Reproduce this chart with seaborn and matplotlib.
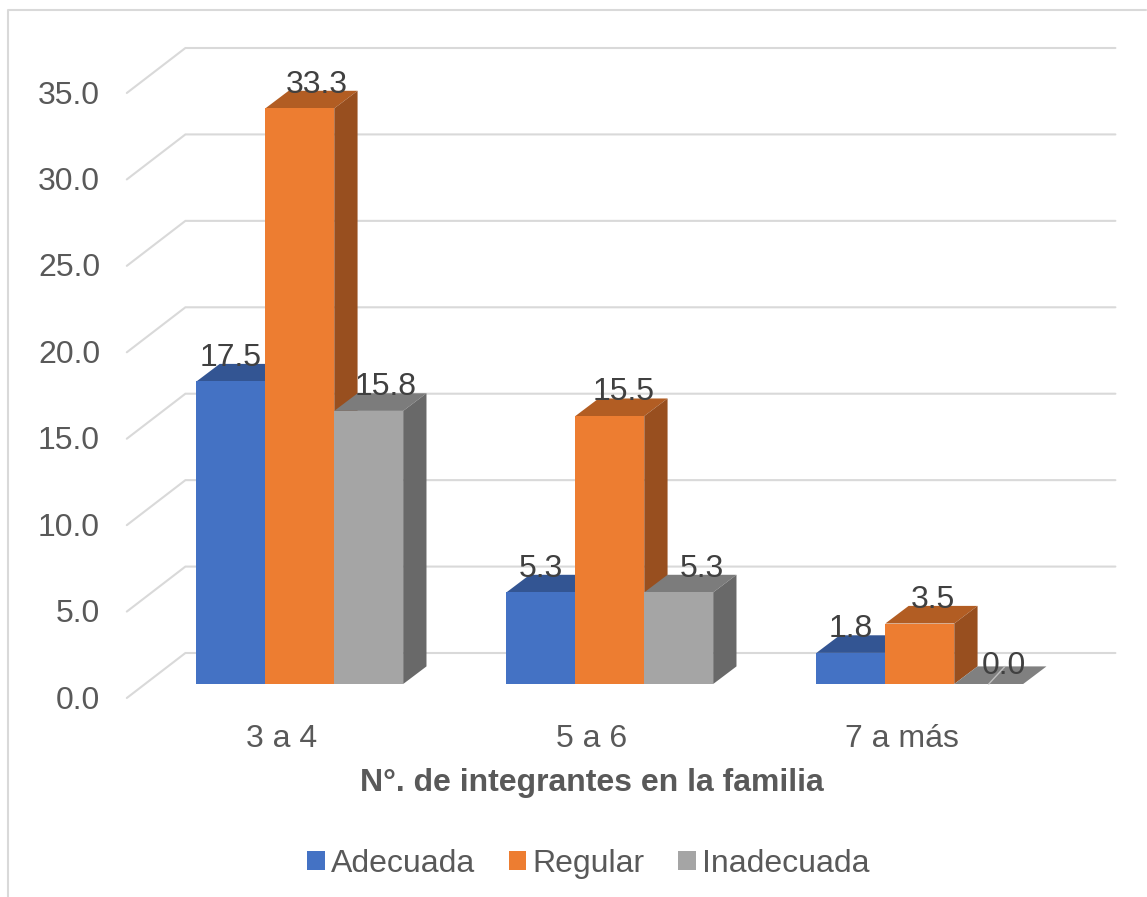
import matplotlib
matplotlib.use("Agg")
import matplotlib.pyplot as plt
from matplotlib.patches import Polygon
from matplotlib.lines import Line2D
from matplotlib.transforms import Affine2D
import pandas as pd
import seaborn as sns

categories = ["3 a 4", "5 a 6", "7 a más"]
adecuada = [17.5, 5.3, 1.8]
regular = [33.3, 15.5, 3.5]
inadecuada = [15.8, 5.3, 0.0]
series_names = ["Adecuada", "Regular", "Inadecuada"]
y_ticks = [0, 5, 10, 15, 20, 25, 30, 35]
x_title = "N°. de integrantes en la familia"

W, H = 1147, 897
FRONT = ["#4472C4", "#ED7D31", "#A5A5A5"]
TOP = ["#335593", "#B25D23", "#7C7C7C"]
SIDE = ["#2B4A80", "#984F1F", "#696969"]
TEXT = "#595959"
LABEL = "#404040"
GRID = "#D9D9D9"
FS = 23

sns.set_theme(style="white")
plt.rcParams["font.family"] = ["Liberation Sans", "DejaVu Sans"]

df = pd.DataFrame({
    "cat": categories * 3,
    "serie": [s for s in series_names for _ in categories],
    "val": adecuada + regular + inadecuada,
})

fig = plt.figure(figsize=(W / 100, H / 100), dpi=100)
ax_left, ax_right, ax_bottom, ax_top = 144.8, 1074.8, 684.0, 79.0
ax = fig.add_axes([ax_left / W, 1 - ax_bottom / H, (ax_right - ax_left) / W, (ax_bottom - ax_top) / H])

sns.barplot(data=df, x="cat", y="val", hue="serie", order=categories, hue_order=series_names,
            palette=FRONT, width=0.667, gap=0, saturation=1, dodge=True, legend=False,
            linewidth=0, ax=ax)
ax.set_xlim(-0.5, 2.5)
ax.set_ylim(0, 35)
sns.despine(ax=ax, left=True, bottom=True)

px_x = 3 / (ax_right - ax_left)
px_y = 35 / (ax_bottom - ax_top)
bar_dx, bar_dy = 23.3 * px_x, 17.6 * px_y
back_dx, back_dy = 40.6 * px_x, 31.0 * px_y
fore_dx, fore_dy = 18.0 * px_x, 14.0 * px_y

# Walls: gridlines with their slanted return on the left
for v in y_ticks:
    ax.plot([-0.5 - fore_dx, -0.5 + back_dx, 2.5 + back_dx],
            [v - fore_dy, v + back_dy, v + back_dy],
            color=GRID, lw=1.5, zorder=0.5, clip_on=False, solid_joinstyle="miter")

# Extruded bars
nudges = {(0, 0): 0, (0, 1): 0, (0, 2): 0,
          (1, 0): 17, (1, 1): 14, (1, 2): 13,
          (2, 0): 17, (2, 1): 23, (2, 2): 15}
for i, cont in enumerate(ax.containers):
    for j, rect in enumerate(cont.patches):
        x0, w, h = rect.get_x(), rect.get_width(), rect.get_height()
        x1 = x0 + w
        z = 3 + i
        rect.set_zorder(z + 0.5)
        rect.set_clip_on(False)
        top_col = "#808080" if h == 0 else TOP[i]
        ax.add_patch(Polygon([(x0, h), (x1, h), (x1 + bar_dx, h + bar_dy), (x0 + bar_dx, h + bar_dy)],
                             closed=True, fc=top_col, ec="none", zorder=z, clip_on=False))
        ax.add_patch(Polygon([(x1, 0), (x1 + bar_dx, bar_dy), (x1 + bar_dx, h + bar_dy), (x1, h)],
                             closed=True, fc=SIDE[i], ec="none", zorder=z, clip_on=False))
        if h == 0:
            xm = x0 + w / 2
            ax.plot([xm, xm + bar_dx * 0.7], [0, bar_dy], color="#BFBFBF", lw=1, zorder=z + 0.6, clip_on=False)
        base = h + bar_dy + (8 if h == 0 else 2) * (-px_y)
        label_tf = ax.transData + Affine2D().translate(nudges[(i, j)], 0)
        ax.text(x0 + w / 2, base, f"{h:.1f}", ha="center", va="baseline", fontsize=FS,
                color=LABEL, transform=label_tf, zorder=20, clip_on=False)

# Axis tick labels, moved onto the front edge of the floor
ax.set_yticks(y_ticks)
ax.set_yticklabels([f"{v:.1f}" for v in y_ticks])
ax.tick_params(axis="y", length=0, pad=(ax_left - 100) * 0.72, labelsize=FS, labelcolor=TEXT)
ax.tick_params(axis="x", length=0, pad=(725 - 684 - 1) * 0.72, labelsize=FS, labelcolor=TEXT)
for lab in ax.get_yticklabels():
    lab.set_transform(lab.get_transform() + Affine2D().translate(0, -13))
for lab in ax.get_xticklabels():
    lab.set_transform(lab.get_transform() + Affine2D().translate(-18, 0))
ax.set_xlabel("")
ax.set_ylabel("")
fig.text(592 / W, 1 - 783 / H, x_title, ha="center", va="center", fontsize=23,
         fontweight="bold", color=TEXT)

handles = [plt.Rectangle((0, 0), 1, 1, fc=c, ec="none") for c in FRONT]
leg = fig.legend(handles, series_names, loc="center", bbox_to_anchor=(588.5 / W, 1 - 864 / H), ncols=3,
                 frameon=False, fontsize=23, handlelength=0.55, handleheight=0.55,
                 handletextpad=0.2, columnspacing=1.05, labelcolor=TEXT, borderpad=0, borderaxespad=0)

# Chart frame
fig.add_artist(Line2D([8 / W, 8 / W, 1 - 1 / W], [0, 1 - 10 / H, 1 - 10 / H], color=GRID, lw=1.5,
                      transform=fig.transFigure))

fig.savefig("out.png", dpi=100, facecolor="white")
